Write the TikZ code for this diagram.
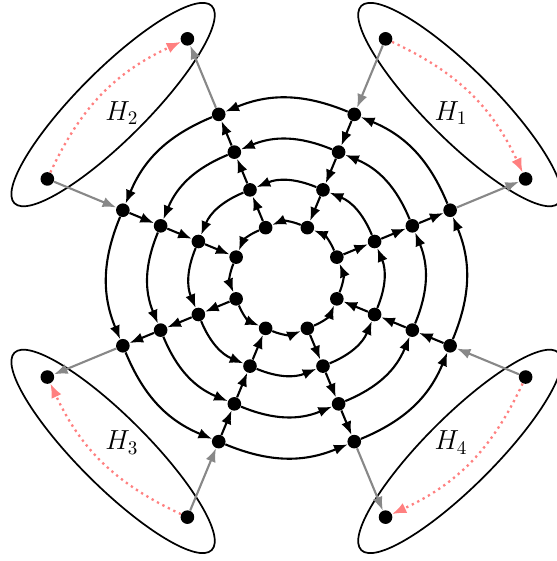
\documentclass[tikz,border=0pt]{standalone}
\usepackage{tikz}
\usetikzlibrary{arrows.meta,shapes.geometric}
\definecolor{hop}{HTML}{FF8080}
\definecolor{feed}{HTML}{888888}

\begin{document}
\begin{tikzpicture}[
  dot/.style={circle, fill=black, inner sep=0pt, minimum size=2.5mm},
  arr/.style={-{Latex[length=2.5mm, width=1.9mm]}, line width=1.1pt},
  link/.style={-{Latex[length=2.5mm, width=1.9mm]}, line width=1.1pt, draw=feed},
  swap/.style={-{Latex[length=2.6mm, width=2mm]}, line width=1.2pt, dotted,
    draw=hop, bend left=20},
  hull/.style={draw, line width=0.9pt, ellipse, inner sep=0pt,
    minimum width=5.12cm, minimum height=1.28cm}
]
  \useasboundingbox (-5.257,-5.193) rectangle (4.963,5.101);

  % rings of vertices and outer hyperedge vertices
  \foreach \k/\r in {1/1, 2/1.75, 3/2.5, 4/3.25}
    \foreach \j in {0,...,7}
      \node[dot] (v\k-\j) at ({22.5+45*\j}:\r) {};
  \foreach \j in {0,...,7}
    \node[dot] (h\j) at ({22.5+45*\j}:4.75) {};

  % hyperedges
  \foreach \m/\a in {1/45, 2/135, 3/225, 4/315} {
    \node[hull, rotate=\a-90] (e\m) at (\a:4.5) {};
    \node[font=\Large] (l\m) at (\a:4.27) {$H_\m$};
  }

  % ring arcs, counterclockwise
  \foreach \k in {1,...,4}
    \foreach \j/\n in {0/1, 1/2, 2/3, 3/4, 4/5, 5/6, 6/7, 7/0}
      \draw[arr] (v\k-\j) to[bend right=22.5] (v\k-\n);

  % spokes: out on even, in on odd
  \foreach \j/\i in {0/1, 2/3, 4/5, 6/7} {
    \draw[arr] (v1-\j) -- (v2-\j);
    \draw[arr] (v2-\j) -- (v3-\j);
    \draw[arr] (v3-\j) -- (v4-\j);
    \draw[link] (v4-\j) -- (h\j);
    \draw[link] (h\i) -- (v4-\i);
    \draw[arr] (v4-\i) -- (v3-\i);
    \draw[arr] (v3-\i) -- (v2-\i);
    \draw[arr] (v2-\i) -- (v1-\i);
    \draw[swap] (h\i) to (h\j);
  }
\end{tikzpicture}
\end{document}
